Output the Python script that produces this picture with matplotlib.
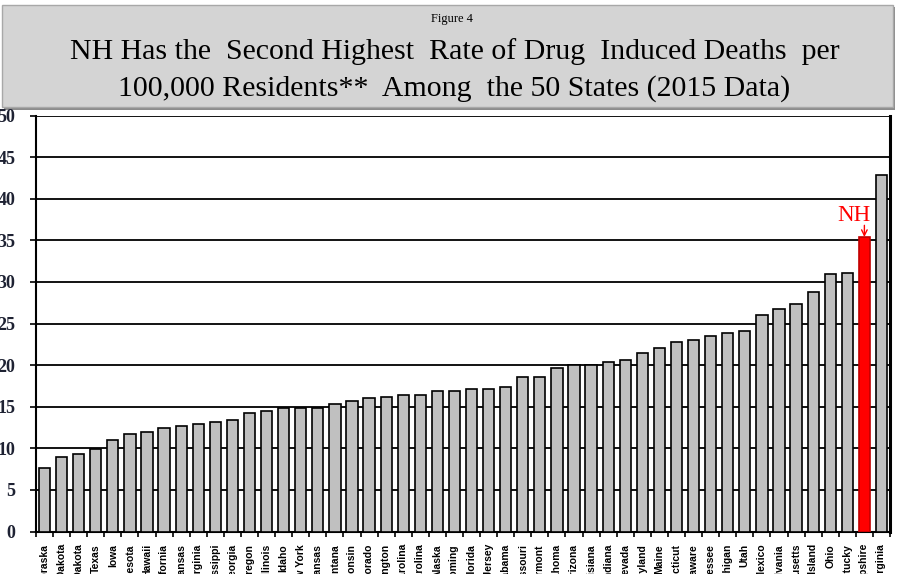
import numpy as np
import matplotlib.pyplot as plt
from matplotlib.patches import Rectangle

# Drug induced deaths per 100,000 residents, 2015, sorted ascending
states = [
    "Nebraska", "North Dakota", "South Dakota", "Texas", "Iowa", "Minnesota",
    "Hawaii", "California", "Kansas", "Virginia", "Mississippi", "Georgia",
    "Oregon", "Illinois", "Idaho", "New York", "Arkansas", "Montana",
    "Wisconsin", "Colorado", "Washington", "North Carolina", "South Carolina",
    "Alaska", "Wyoming", "Florida", "New Jersey", "Alabama", "Missouri",
    "Vermont", "Oklahoma", "Arizona", "Louisiana", "Indiana", "Nevada",
    "Maryland", "Maine", "Connecticut", "Delaware", "Tennessee", "Michigan",
    "Utah", "New Mexico", "Pennsylvania", "Massachusetts", "Rhode Island",
    "Ohio", "Kentucky", "New Hampshire", "West Virginia",
]
rates = [
    7.6, 9.0, 9.3, 9.9, 11.0, 11.7,
    12.0, 12.4, 12.7, 12.9, 13.2, 13.4,
    14.3, 14.5, 14.8, 14.8, 14.9, 15.3,
    15.7, 16.0, 16.2, 16.4, 16.4,
    16.9, 16.9, 17.1, 17.1, 17.4, 18.6,
    18.6, 19.6, 20.0, 20.0, 20.4, 20.6,
    21.4, 22.1, 22.8, 23.0, 23.5, 23.9,
    24.1, 26.0, 26.8, 27.4, 28.8,
    30.9, 31.1, 35.4, 42.9,
]
highlight = "New Hampshire"
highlight_label = "NH"
y_ticks = [0, 5, 10, 15, 20, 25, 30, 35, 40, 45, 50]

title_small = "Figure 4"
title_line1 = "NH Has the  Second Highest  Rate of Drug  Induced Deaths  per"
title_line2 = "100,000 Residents**  Among  the 50 States (2015 Data)"

W, H = 900, 574
fig = plt.figure(figsize=(W / 100, H / 100), dpi=100)

# Grey heading panel with a soft shadow
fig.add_artist(Rectangle((4 / W, 1 - 110 / H), 891 / W, 103 / H,
                         transform=fig.transFigure, facecolor="#8c8c8c",
                         edgecolor="none", zorder=0))
fig.add_artist(Rectangle((2 / W, 1 - 107 / H), 891 / W, 102 / H,
                         transform=fig.transFigure, facecolor="#d4d4d4",
                         edgecolor="#a8a8a8", lw=1, zorder=1))
fig.text(452 / W, 1 - 19 / H, title_small, ha="center", va="center",
         fontsize=9, family="Liberation Serif", zorder=2)
fig.text(455 / W, 1 - 52 / H, title_line1, ha="center", va="center",
         fontsize=21.5, family="Liberation Serif", zorder=2)
fig.text(454 / W, 1 - 89 / H, title_line2, ha="center", va="center",
         fontsize=21.5, family="Liberation Serif", zorder=2)

ax = fig.add_axes([36 / W, 42.5 / H, 854 / W, 416 / H])
x = np.arange(len(states))
face = ["#ff0000" if s == highlight else "#c0c0c0" for s in states]
edge = ["#c00000" if s == highlight else "black" for s in states]
ax.bar(x, rates, width=0.66, color=face, edgecolor=edge, linewidth=1.2, zorder=3)

ax.set_xlim(-0.5, len(states) - 0.5)
ax.set_ylim(0, 50)
ax.set_yticks(y_ticks)
ax.yaxis.grid(True, color="black", linewidth=1.3)
ax.set_axisbelow(True)

ax.tick_params(axis="y", direction="out", length=4.3, width=1.2, pad=10.5,
               labelsize=13, colors="black")
for lab in ax.get_yticklabels():
    lab.set_fontfamily("Liberation Serif")
    lab.set_fontweight("bold")
    lab.set_color("#1e2233")

ax.set_xticks(x)
ax.set_xticklabels(states, rotation=90, fontsize=7.5, fontweight="bold",
                   family="Liberation Sans")
ax.tick_params(axis="x", which="major", length=0, pad=9)
ax.set_xticks(np.arange(-0.5, len(states), 1), minor=True)
ax.tick_params(axis="x", which="minor", direction="out", length=3.6, width=1.2)

for side in ("left", "bottom", "right"):
    ax.spines[side].set_color("black")
    ax.spines[side].set_linewidth(1.5)
ax.spines["top"].set_visible(False)
ax.spines["right"].set_linewidth(2.2)

# Call-out for the highlighted state
i = states.index(highlight)
ax.annotate("", xy=(i, rates[i]), xytext=(i, rates[i] + 1.4),
            arrowprops=dict(arrowstyle="->", color="#ff0000", lw=1.0,
                            shrinkA=0, shrinkB=0), zorder=5)
ax.text(i - 0.63, rates[i] + 1.3, highlight_label, ha="center", va="bottom",
        color="#ff0000", fontsize=16.5, family="Liberation Serif", zorder=5)

fig.savefig("out.png", dpi=100)
